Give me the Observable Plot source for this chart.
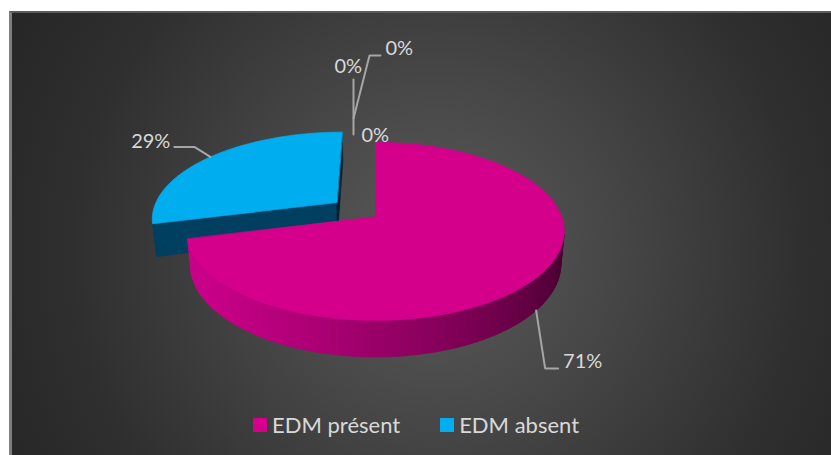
<!DOCTYPE html>
<html><head><meta charset="utf-8">
<script src="https://cdn.jsdelivr.net/npm/d3@7"></script>
<script src="https://cdn.jsdelivr.net/npm/@observablehq/plot@0.6"></script>
<style>
html,body{margin:0;padding:0;background:#fff;}
#wrap{position:relative;width:831px;height:455px;overflow:hidden;}
#bg{position:absolute;left:9px;top:11px;width:822px;height:444px;box-sizing:border-box;
  border-left:3px solid #7f7f7f;border-top:2px solid #5a5a5a;
  background:radial-gradient(circle farthest-corner at 52% 54%, #5a5a5a 0%, #474747 35%, #2f2f2f 75%, #262626 100%);}
#chart{position:absolute;left:0;top:0;}
.legend{position:absolute;left:253px;top:412px;display:flex;align-items:center;font-family:Lato,sans-serif;font-size:22px;color:#d9d9d9;line-height:26px;}
.legend .item{display:flex;align-items:center;margin-right:40px;}
.legend .sw{width:14px;height:14px;margin-right:5px;}
</style></head><body>
<div id="wrap"><div id="bg"></div><div id="chart"></div><div class="legend" id="legend"></div></div>
<script>
// ---- data ----
const categories = ["EDM présent", "EDM absent", "", "", ""];
const values = [71, 29, 0, 0, 0];
const labels = ["71%", "29%", "0%", "0%", "0%"];

// ---- styles ----
const topColors = ["#d4008c", "#00aeef", "#d4008c", "#00aeef", "#888888"];
const sideDark = ["#3c0029", "#001a2a", "#3c0029", "#001a2a", "#333333"];
const sideLight = ["#cc008a", "#005f8f", "#cc008a", "#005f8f", "#888888"];
const explode = [0, 0.27, 0, 0, 0];
// label layout: pixel offsets from each slice's anchor point
const labelLayout = [
  {leader: [[0,0],[9,58],[22,58]], text: [27, 51.6], anchor: "start"},
  {leader: [[0,0],[-16,-10],[-36,-10]], text: [-40, -15.4], anchor: "end"},
  {leader: [], text: [-14, -6.4], anchor: "start"},
  {leader: [[-22,-8],[-22,-63]], text: [-41, -75.4], anchor: "start"},
  {leader: [[-22,-24],[-6,-87],[5,-87]], text: [10, -93.4], anchor: "start"}
];

// ---- 3D projection setup ----
const W = 831, H = 455, PX = 186, CX = 375, CY = 216;
const D = 5.29, sinB = 0.465, cosB = Math.sqrt(1 - sinB * sinB), T = 0.2;
const cam = [0, D * sinB, -D * cosB];
const L = [-0.95, -0.31];
function world(theta, r, h, ex, mid) {
  return [r * Math.sin(theta) + ex * Math.sin(mid), h, r * Math.cos(theta) + ex * Math.cos(mid)];
}
function proj(theta, r, h, ex, mid) {
  const [X, hh, Z] = world(theta, r, h, ex, mid);
  const yc = hh * cosB + Z * sinB;
  const depth = D + Z * cosB - hh * sinB;
  return {x: X * D / depth, y: -yc * D / depth};
}
function facing(n, p) { return n[0] * (cam[0] - p[0]) + n[1] * (cam[2] - p[2]) > 0; }
function light(n) { return Math.max(0, Math.min(1, 0.5 + 0.5 * (n[0] * L[0] + n[1] * L[1]))); }

const arcs = d3.pie().sort(null).value(d => d)(values);
const polys = [], shadows = [];
let pid = 0;
function addPoly(arr, pts, fill) { const id = pid++; pts.forEach((p, i) => arr.push({id, x: p.x, y: p.y, fill, i})); }

const order = arcs.map((a, i) => i).filter(i => values[i] > 0)
  .sort((i, j) => {
    const zi = Math.cos((arcs[i].startAngle + arcs[i].endAngle) / 2) * (1 + explode[i]);
    const zj = Math.cos((arcs[j].startAngle + arcs[j].endAngle) / 2) * (1 + explode[j]);
    return zj - zi;
  });

for (const i of order) {
  const a0 = arcs[i].startAngle, a1 = arcs[i].endAngle, mid = (a0 + a1) / 2, ex = explode[i];
  const N = Math.max(2, Math.ceil((a1 - a0) / (Math.PI / 90)));
  const angs = d3.range(N + 1).map(k => a0 + (a1 - a0) * k / N);
  const shade = b => d3.interpolateRgb(sideDark[i], sideLight[i])(b);
  addPoly(shadows, [proj(a0, 0, -T, ex, mid), ...angs.map(a => proj(a, 1, -T, ex, mid))], "#000");
  const cuts = [[a0, [-Math.cos(a0), Math.sin(a0)]], [a1, [Math.cos(a1), -Math.sin(a1)]]];
  for (const [a, n] of cuts) {
    if (facing(n, world(a, 0.5, -T / 2, ex, mid))) {
      addPoly(polys, [proj(a, 0, 0, ex, mid), proj(a, 1, 0, ex, mid), proj(a, 1, -T, ex, mid), proj(a, 0, -T, ex, mid)], shade(Math.min(0.7, light(n))));
    }
  }
  for (let k = 0; k < N; k++) {
    const tm = (angs[k] + angs[k + 1]) / 2, n = [Math.sin(tm), Math.cos(tm)];
    if (facing(n, world(tm, 1, -T / 2, ex, mid))) {
      addPoly(polys, [proj(angs[k], 1, 0, ex, mid), proj(angs[k + 1], 1, 0, ex, mid), proj(angs[k + 1], 1, -T, ex, mid), proj(angs[k], 1, -T, ex, mid)], shade(light(n)));
    }
  }
  addPoly(polys, [proj(a0, 0, 0, ex, mid), ...angs.map(a => proj(a, 1, 0, ex, mid))], topColors[i]);
}

// labels + leaders
const leaders = [], textsStart = [], textsEnd = [];
arcs.forEach((arc, i) => {
  const ex = explode[i];
  let anc;
  if (values[i] > 0) {
    const mid = (arc.startAngle + arc.endAngle) / 2;
    anc = Math.cos(mid) < 0 ? proj(mid, 1, -T, ex, mid) : proj(mid, 1, 0, ex, mid);
  } else {
    anc = proj(arc.startAngle, 1, 0, 0, arc.startAngle);
  }
  const lay = labelLayout[i];
  lay.leader.forEach((o, k) => leaders.push({id: i, x: anc.x + o[0] / PX, y: anc.y + o[1] / PX, k}));
  const t = {x: anc.x + lay.text[0] / PX, y: anc.y + lay.text[1] / PX, text: labels[i]};
  (lay.anchor === "end" ? textsEnd : textsStart).push(t);
});

const plot = Plot.plot({
  width: W, height: H, margin: 0,
  style: {background: "transparent", overflow: "visible"},
  x: {domain: [-CX / PX, (W - CX) / PX], range: [0, W], axis: null},
  y: {domain: [-CY / PX, (H - CY) / PX], range: [0, H], axis: null},
  color: {type: "identity"},
  marks: [
    Plot.line(shadows, {x: "x", y: "y", z: "id", fill: "#000", fillOpacity: 0.75, stroke: "none", curve: "linear-closed", dx: -3, dy: 3, ariaLabel: "pie-shadow"}),
    Plot.line(polys, {x: "x", y: "y", z: "id", fill: "fill", stroke: "fill", strokeWidth: 0.7, curve: "linear-closed"}),
    Plot.line(leaders, {x: "x", y: "y", z: "id", stroke: "#a6a6a6", strokeWidth: 2, strokeLinejoin: "miter"}),
    Plot.text(textsStart, {x: "x", y: "y", text: "text", textAnchor: "start", fill: "#d9d9d9", fontSize: 20, fontFamily: "Lato"}),
    Plot.text(textsEnd, {x: "x", y: "y", text: "text", textAnchor: "end", fill: "#d9d9d9", fontSize: 20, fontFamily: "Lato"})
  ]
});
const svg = d3.select(plot);
const defs = svg.insert("defs", ":first-child");
defs.append("filter").attr("id", "blurShadow").attr("x", "-20%").attr("y", "-20%").attr("width", "140%").attr("height", "140%")
  .append("feGaussianBlur").attr("stdDeviation", 3);
svg.select('g[aria-label="pie-shadow"]').attr("filter", "url(#blurShadow)");
document.getElementById("chart").appendChild(plot);

// legend
const lg = d3.select("#legend");
categories.forEach((c, i) => {
  if (!c) return;
  const it = lg.append("div").attr("class", "item");
  it.append("div").attr("class", "sw").style("background", topColors[i]);
  it.append("span").text(c);
});
</script>
</body></html>
